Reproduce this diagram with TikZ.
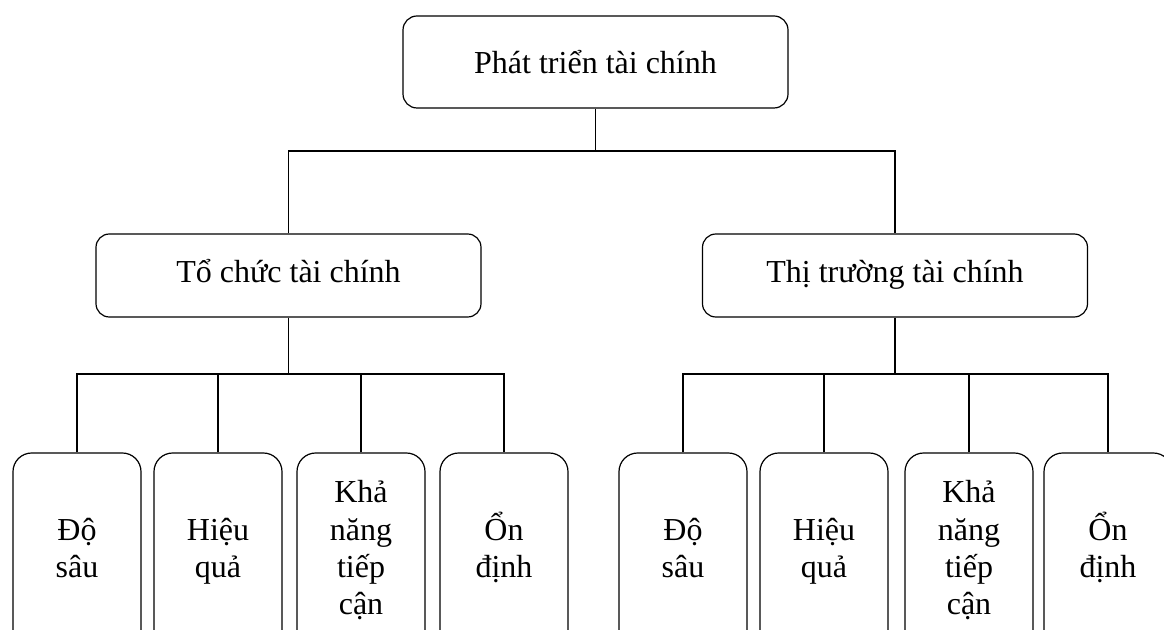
\documentclass[tikz,border=0pt]{standalone}
\usepackage{fontspec}
\setmainfont{Liberation Serif}
\usepackage{tikz}
\usetikzlibrary{positioning}
\tikzset{
  rootBox/.style={
    rectangle,
    rounded corners=10.5pt,
    draw=black,
    line width=0.9pt,
    minimum width=288.75pt,
    minimum height=69pt,
    align=center,
    font=\fontsize{24}{28}\selectfont
  },
  groupBox/.style={
    rectangle,
    rounded corners=10pt,
    draw=black,
    line width=0.9pt,
    minimum width=288.75pt,
    minimum height=62.25pt,
    align=center,
    execute at begin node=\strut,
    font=\fontsize{24}{28}\selectfont
  },
  leafBox/.style={
    rectangle,
    rounded corners=14pt,
    draw=black,
    line width=0.9pt,
    minimum width=96pt,
    minimum height=150pt,
    align=center,
    execute at end node=\rule[-8pt]{0pt}{8pt},
    font=\fontsize{24}{28}\selectfont
  },
  link/.style={
    draw=black,
    line width=0.9pt
  }
}
\begin{document}
\begin{tikzpicture}[x=0.75pt,y=-0.75pt]
  \useasboundingbox (0,0) rectangle (1164,630);
  % top level
  \node[rootBox] (root) at (595.5,62) {Phát triển tài chính};
  % second level
  \node[groupBox] (orgMid) at (288.5,275.5) {Tổ chức tài chính};
  \node[groupBox] (mktMid) at (895,275.5) {Thị trường tài chính};
  % third level, left
  \node[leafBox] (orgDepth) at (77,553) {Độ\\sâu};
  \node[leafBox] (orgEff) at (218,553) {Hiệu\\quả};
  \node[leafBox] (orgAccess) at (361,553) {Khả\\năng\\tiếp\\cận};
  \node[leafBox] (orgStable) at (504,553) {\smash{Ổn}\vphantom{Độ}\\định};
  % third level, right
  \node[leafBox] (mktDepth) at (683,553) {Độ\\sâu};
  \node[leafBox] (mktEff) at (824,553) {Hiệu\\quả};
  \node[leafBox] (mktAccess) at (969,553) {Khả\\năng\\tiếp\\cận};
  \node[leafBox] (mktStable) at (1108,553) {\smash{Ổn}\vphantom{Độ}\\định};
  % bus lines
  \coordinate (rootBus) at (595.5,151);
  \coordinate (orgBus) at (288.5,374);
  \coordinate (mktBus) at (895,374);
  \draw[link] (root.south) -- (rootBus);
  \draw[link] (orgMid.north) |- (rootBus) -| (mktMid.north);
  \draw[link] (orgMid.south) -- (orgBus);
  \draw[link] (orgDepth.north) |- (orgBus) -| (orgStable.north);
  \draw[link] (orgEff.north) -- (orgEff.north |- orgBus);
  \draw[link] (orgAccess.north) -- (orgAccess.north |- orgBus);
  \draw[link] (mktMid.south) -- (mktBus);
  \draw[link] (mktDepth.north) |- (mktBus) -| (mktStable.north);
  \draw[link] (mktEff.north) -- (mktEff.north |- mktBus);
  \draw[link] (mktAccess.north) -- (mktAccess.north |- mktBus);
\end{tikzpicture}
\end{document}
